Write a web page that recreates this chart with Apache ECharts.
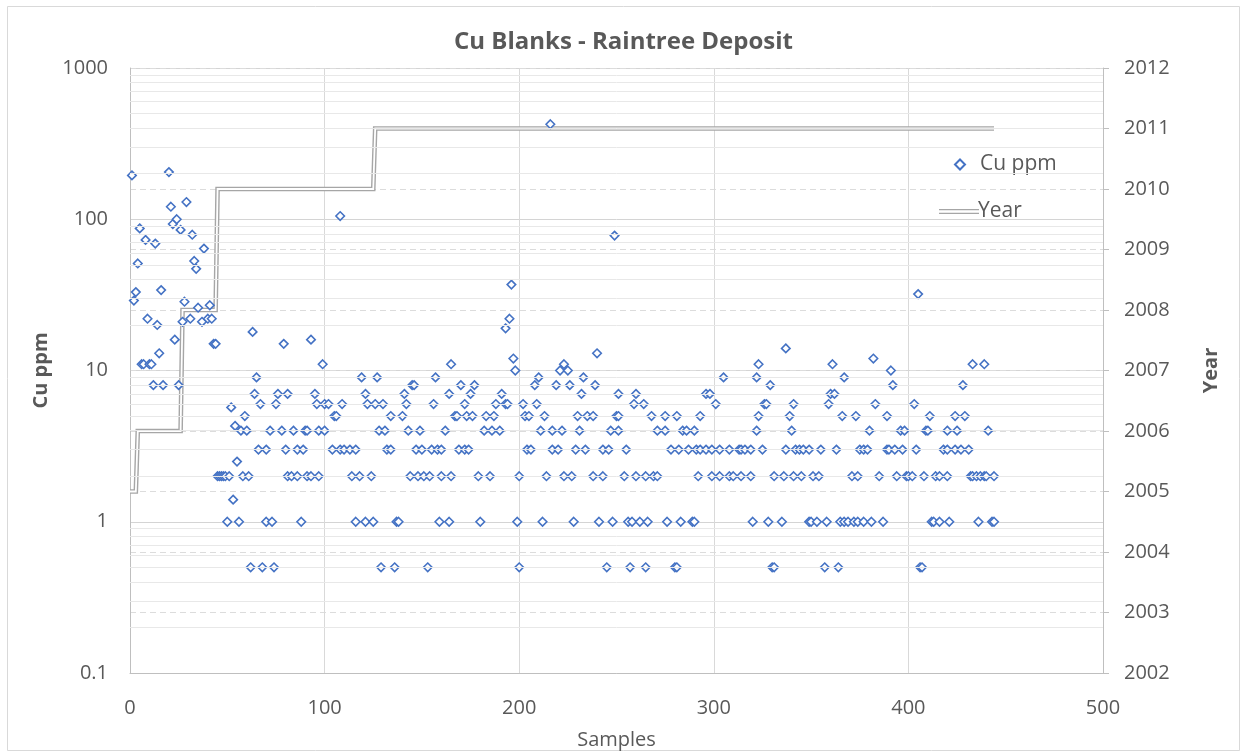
<!DOCTYPE html>
<html>
<head>
<meta charset="utf-8">
<script src="https://cdn.jsdelivr.net/npm/echarts@6/dist/echarts.min.js"></script>
<style>
html,body{margin:0;padding:0;background:#fff;}
#chart{width:1247px;height:755px;}
</style>
</head>
<body>
<div id="chart"></div>
<script>
// ---- DATA: [sample number, Cu ppm] ----
const cuSamples1to81 = [[1,195],[2,29],[3,33],[4,51],[5,87],[6,11],[7,11],[8,73],[9,22],[10,11],[11,11],[12,8],[13,69],[14,20],[15,13],[16,34],[17,8],[20,205],[21,121],[22,93],[23,16],[24,100],[25,8],[26,85],[27,21],[28,28.5],[29,130],[31,22],[32,79],[33,53],[34,47],[35,26],[37,21],[38,64],[40,22],[41,27],[42,22],[43,15],[44,15],[45,2],[46,2],[47,2],[48,2],[49,2],[50,1],[51,2],[52,5.7],[53,1.4],[54,4.3],[55,2.5],[56,1],[57,4],[58,2],[59,5],[60,4],[61,2],[62,0.5],[63,18],[64,7],[65,9],[66,3],[67,6],[68,0.5],[70,3],[70,1],[72,4],[73,1],[74,0.5],[75,6],[76,7],[78,4],[79,15],[80,3],[81,7],[81,2]];
const cuSamples83to165 = [[83,2],[84,4],[86,3],[86,2],[88,1],[89,3],[90,4],[91,4],[91,2],[93,16],[93,2],[95,7],[96,6],[97,4],[97,2],[99,11],[100,6],[100,4],[102,6],[104,3],[105,5],[106,5],[108,105],[108,3],[109,6],[110,3],[113,3],[114,2],[116,3],[116,1],[118,2],[119,9],[121,7],[121,1],[122,6],[124,2],[125,1],[126,6],[127,9],[128,4],[129,0.5],[130,6],[131,4],[132,3],[134,3],[134,5],[136,0.5],[137,1],[138,1],[140,5],[141,7],[142,6],[143,4],[144,2],[145,8],[146,8],[147,3],[148,2],[149,4],[150,3],[151,2],[153,0.5],[154,2],[155,3],[156,6],[157,9],[158,3],[159,1],[160,3],[160,2],[162,4],[164,7],[164,1],[165,11],[165,2]];
const cuSamples167to251 = [[167,5],[168,5],[169,3],[170,8],[172,6],[172,3],[173,5],[174,3],[175,7],[176,5],[177,8],[179,2],[180,1],[182,4],[183,5],[185,2],[186,4],[187,5],[188,6],[190,4],[191,7],[193,19],[193,6],[194,6],[195,22],[196,37],[197,12],[198,10],[199,1],[200,2],[200,0.5],[202,6],[203,5],[204,3],[205,5],[206,3],[208,8],[209,6],[210,9],[211,4],[212,1],[213,5],[214,2],[216,425],[217,4],[217,3],[219,8],[220,3],[221,10],[222,4],[223,11],[223,2],[225,10],[226,8],[227,2],[228,1],[229,3],[230,5],[231,4],[232,7],[233,9],[234,3],[235,5],[238,5],[238,2],[239,8],[240,13],[241,1],[243,3],[243,2],[245,0.5],[246,3],[247,4],[248,1],[249,78],[250,5],[251,5],[251,7]];
const cuSamples251to331 = [[251,4],[254,2],[255,3],[256,1],[257,0.5],[258,1],[259,6],[260,7],[260,2],[262,1],[264,6],[265,2],[265,0.5],[266,1],[268,5],[269,2],[271,4],[271,2],[275,5],[275,4],[276,1],[278,3],[280,0.5],[281,0.5],[281,5],[282,3],[283,1],[284,4],[286,4],[287,3],[289,1],[290,4],[290,1],[291,3],[292,2],[293,5],[293,3],[296,7],[296,3],[298,7],[299,3],[299,2],[301,6],[303,3],[303,2],[305,9],[308,3],[308,2],[310,2],[313,3],[314,3],[314,2],[316,3],[319,3],[319,2],[320,1],[322,9],[322,4],[323,11],[323,5],[325,3],[326,6],[327,6],[328,1],[329,8],[330,0.5],[331,0.5],[331,2]];
const cuSamples335to444 = [[335,1],[336,2],[337,14],[337,3],[339,5],[340,4],[341,6],[341,2],[342,3],[344,3],[345,2],[346,3],[349,3],[349,1],[350,1],[351,2],[353,1],[354,2],[355,3],[357,0.5],[358,1],[359,6],[360,7],[361,11],[362,7],[363,3],[364,0.5],[365,1],[366,5],[367,9],[367,1],[369,1],[371,2],[372,1],[373,5],[374,2],[374,1],[375,3],[377,3],[377,1],[379,3],[380,4],[381,1],[382,12],[383,6],[385,2],[387,1],[389,5],[389,3],[390,3],[391,10],[392,8],[393,3],[394,2],[396,4],[397,3],[398,4],[399,2],[400,2],[402,2],[403,6],[404,3],[405,32],[406,0.5],[407,0.5],[408,2],[409,4],[410,4],[411,5],[412,1],[413,1],[414,2],[416,2],[416,1],[418,3],[420,4],[420,2],[421,1],[420,3],[424,3],[424,5],[425,4],[427,3],[428,8],[429,5],[431,3],[432,2],[433,11],[433,2],[435,2],[436,1],[437,2],[439,11],[439,2],[440,2],[441,4],[443,1],[444,2],[444,1]];

// Year step line (sample -> year)
const yearSamples = [0, 3, 4, 26, 27, 44, 45, 125, 126, 444];
const yearValues  = [2005, 2005, 2006, 2006, 2008, 2008, 2010, 2010, 2011, 2011];

// Axis ranges / labels
const xRange = [0, 500, 100];
const cuRange = [0.1, 1000];
const yearRange = [2002, 2012, 1];
const titleText = 'Cu Blanks - Raintree Deposit';
const xName = 'Samples', cuName = 'Cu ppm', yearName = 'Year';

// ---- build ----
const cuData = [].concat(cuSamples1to81, cuSamples83to165, cuSamples167to251, cuSamples251to331, cuSamples335to444);
const yearData = yearSamples.map((s, i) => [s, yearValues[i]]);
const minorLines = [];
for (let d = cuRange[0]; d < cuRange[1]; d *= 10) {
  for (let m = 2; m <= 9; m++) minorLines.push({ yAxis: +(d * m).toPrecision(3) });
}
const plainNum = v => String(+(+v).toPrecision(6));

const FONT = '"Open Sans", "Liberation Sans", sans-serif';
const TXT = '#595959';

const chart = echarts.init(document.getElementById('chart'), null, { renderer: 'canvas' });
chart.setOption({
  animation: false,
  backgroundColor: '#ffffff',
  textStyle: { fontFamily: FONT },
  title: {
    text: titleText, left: 'center', top: 25,
    textStyle: { fontFamily: FONT, fontSize: 24, fontWeight: 'bold', color: TXT }
  },
  graphic: [{
    type: 'rect', shape: { x: 7.5, y: 6.5, width: 1232, height: 744 },
    style: { fill: 'none', stroke: '#d9d9d9', lineWidth: 1 }, silent: true, z: -10
  }],
  legend: [
    {
      data: [{ name: cuName }], left: 949, top: 149, orient: 'vertical',
      itemWidth: 10, itemHeight: 10, itemGap: 10,
      textStyle: { fontFamily: FONT, fontSize: 21, color: TXT, padding: [0, 0, 0, 10] }
    },
    {
      data: [{ name: yearName, icon: 'path://M0,0H40V1.3H0ZM0,3.7H40V5H0Z' }],
      left: 934, top: 196, orient: 'vertical',
      itemWidth: 40, itemHeight: 5,
      textStyle: { fontFamily: FONT, fontSize: 21, color: TXT, padding: [0, 0, 0, -6] }
    }
  ],
  grid: { left: 130, right: 144, top: 68, bottom: 76, containLabel: false },
  xAxis: {
    type: 'value', min: xRange[0], max: xRange[1], interval: xRange[2],
    axisLine: { show: true, lineStyle: { color: '#bfbfbf', width: 1 } },
    axisTick: { show: false },
    splitLine: { show: true, lineStyle: { color: '#d9d9d9', width: 1 } },
    axisLabel: { fontFamily: FONT, fontSize: 20, color: TXT, margin: 25, formatter: plainNum },
    name: xName, nameLocation: 'middle', nameGap: 57,
    nameTextStyle: { fontFamily: FONT, fontSize: 20, color: TXT }
  },
  yAxis: [
    {
      type: 'log', logBase: 10, min: cuRange[0], max: cuRange[1], position: 'left',
      axisLine: { show: true, lineStyle: { color: '#bfbfbf', width: 1 } },
      axisTick: { show: false },
      splitLine: { show: true, lineStyle: { color: '#d4d4d4', width: 1 } },
      axisLabel: { fontFamily: FONT, fontSize: 20, color: TXT, margin: 22, formatter: plainNum },
      name: cuName, nameLocation: 'middle', nameRotate: 90, nameGap: 74,
      nameTextStyle: { fontFamily: FONT, fontSize: 20, fontWeight: 'bold', color: TXT }
    },
    {
      type: 'value', min: yearRange[0], max: yearRange[1], interval: yearRange[2], position: 'right',
      axisLine: { show: true, lineStyle: { color: '#bfbfbf', width: 1 } },
      axisTick: { show: true, length: 6, lineStyle: { color: '#bfbfbf' } },
      splitLine: { show: true, lineStyle: { color: '#dcdcdc', width: 1, type: [6, 4] } },
      axisLabel: { fontFamily: FONT, fontSize: 20, color: TXT, margin: 21, formatter: plainNum },
      name: yearName, nameLocation: 'middle', nameRotate: 90, nameGap: 98,
      nameTextStyle: { fontFamily: FONT, fontSize: 20, fontWeight: 'bold', color: TXT }
    }
  ],
  series: [
    {
      name: 'minor', type: 'scatter', yAxisIndex: 0, data: [[0, 0.1]], symbolSize: 0, silent: true, z: 0,
      markLine: {
        silent: true, symbol: ['none', 'none'], label: { show: false }, animation: false,
        lineStyle: { color: '#e8e8e8', width: 1, type: 'solid' },
        data: minorLines
      }
    },
    {
      name: yearName, type: 'line', yAxisIndex: 1, data: yearData, symbol: 'none', z: 2,
      itemStyle: { color: '#a6a6a6' },
      lineStyle: { color: '#a6a6a6', width: 4.6, join: 'miter' }
    },
    {
      name: 'yearInner', type: 'line', yAxisIndex: 1, data: yearData, symbol: 'none', z: 3,
      lineStyle: { color: '#ffffff', width: 1.8, join: 'miter' }
    },
    {
      name: cuName, type: 'scatter', yAxisIndex: 0, data: cuData, z: 4,
      symbol: 'diamond', symbolSize: 8.5,
      itemStyle: { color: '#ffffff', borderColor: '#4472C4', borderWidth: 1.6, opacity: 1 }
    }
  ]
});
</script>
</body>
</html>
